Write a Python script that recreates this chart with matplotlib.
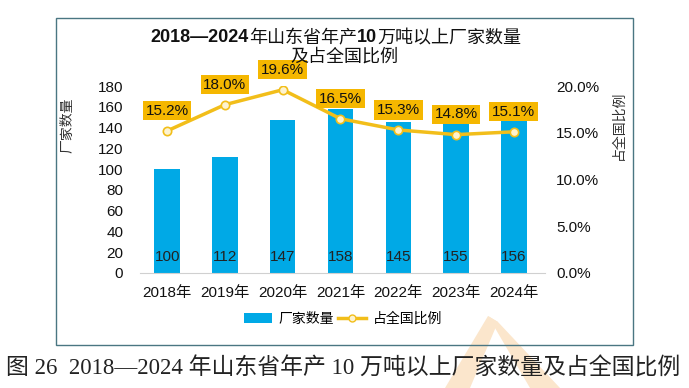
import matplotlib
matplotlib.use("Agg")
import matplotlib.pyplot as plt
from matplotlib.patches import Rectangle, Polygon
from matplotlib.lines import Line2D
from matplotlib.patches import Patch

plt.rcParams['font.family'] = ['Liberation Sans', 'Noto Sans CJK SC', 'DejaVu Sans']

years = ["2018年", "2019年", "2020年", "2021年", "2022年", "2023年", "2024年"]
counts = [100, 112, 147, 158, 145, 155, 156]
shares = [15.2, 18.0, 19.6, 16.5, 15.3, 14.8, 15.1]
left_ticks = [0, 20, 40, 60, 80, 100, 120, 140, 160, 180]
right_ticks = [0, 5, 10, 15, 20]

W, H = 689, 388
fig = plt.figure(figsize=(W / 100, H / 100), dpi=100)

BLUE = '#00A9E6'
GOLD = '#F2BE1A'
BOXC = '#F5B700'


def fx(px):
    return px / W


def fy(py):
    return 1 - py / H


# watermark (pale chevron)
wm_col = '#FBE6CC'
fig.patches.append(Polygon([(fx(488), fy(316)), (fx(498), fy(322)), (fx(470), fy(388)), (fx(445), fy(388))],
                           closed=True, transform=fig.transFigure, facecolor=wm_col, edgecolor='none', zorder=0))
fig.patches.append(Polygon([(fx(488), fy(316)), (fx(498), fy(322)), (fx(560), fy(388)), (fx(530), fy(388))],
                           closed=True, transform=fig.transFigure, facecolor=wm_col, edgecolor='none', zorder=0))

# frame
fig.patches.append(Rectangle((fx(56), fy(345)), 577 / W, 327 / H, transform=fig.transFigure,
                             facecolor='none', edgecolor='#4A7682', linewidth=1.0, zorder=1))

ax = fig.add_axes([fx(140), fy(273), 405 / W, 187 / H])
ax.patch.set_alpha(0)
x = list(range(len(years)))
ax.bar(x, counts, width=0.44, color=BLUE, zorder=2)
ax.set_xlim(-0.47, 6.54)
ax.set_ylim(0, 180)
ax.set_yticks(left_ticks)
ax.set_xticks(x)
ax.set_xticklabels(years)
for s in ['top', 'right', 'left']:
    ax.spines[s].set_visible(False)
ax.spines['bottom'].set_color('#D0D0D0')
ax.tick_params(axis='both', length=0, labelsize=11, colors='#111111')
ax.tick_params(axis='x', pad=9)
ax.tick_params(axis='y', pad=12)
ax.set_ylabel('厂家数量', fontsize=10, family=['Noto Sans CJK SC'], fontweight='light', color='#333333')
ax.yaxis.set_label_coords(-0.163, 0.79)

for xi, v in zip(x, counts):
    ax.text(xi, 15, str(v), ha='center', va='center', fontsize=11, color='#222222', zorder=4)

ax2 = ax.twinx()
ax2.set_ylim(0, 20)
ax2.set_yticks(right_ticks)
ax2.set_yticklabels([f"{t:.1f}%" for t in right_ticks])
for s in ['top', 'right', 'left', 'bottom']:
    ax2.spines[s].set_visible(False)
ax2.tick_params(axis='y', length=0, labelsize=11, colors='#111111', pad=8)
ax2.plot(x, shares, color=GOLD, linewidth=2.5, marker='o', markersize=6,
         markerfacecolor='#FDF3D0', markeredgecolor=GOLD, markeredgewidth=1.2, zorder=3)
ax2.set_ylabel('占全国比例', fontsize=10, family=['Noto Sans CJK SC'], fontweight='light',
               color='#333333', rotation=90)
ax2.yaxis.set_label_coords(1.165, 0.79)

for xi, v in zip(x, shares):
    ax2.annotate(f"{v:.1f}%", (xi, v), xytext=(0, 14.5), textcoords='offset points',
                 ha='center', va='center', fontsize=11, color='#111111', zorder=5,
                 bbox=dict(boxstyle='square,pad=0.18', facecolor=BOXC, edgecolor='none'))

# title line 1 with mixed weights
pieces = [("2018—2024", 'bold', ['Liberation Sans']),
          ("年山东省年产", 'light', ['Noto Sans CJK SC']),
          ("10", 'bold', ['Liberation Sans']),
          ("万吨以上厂家数量", 'light', ['Noto Sans CJK SC'])]
renderer = fig.canvas.get_renderer()
texts = []
widths = []
for s, wgt, fam in pieces:
    t = fig.text(0, fy(38), s, ha='left', va='center', fontsize=13, fontweight=wgt, family=fam, color='#111111')
    bb = t.get_window_extent(renderer=renderer)
    texts.append(t)
    widths.append(bb.width)
total = sum(widths)
cur = 336 - total / 2
for t, w in zip(texts, widths):
    t.set_x(fx(cur))
    cur += w
fig.text(fx(344), fy(57), '及占全国比例', ha='center', va='center', fontsize=13, color='#111111',
         family=['Noto Sans CJK SC'], fontweight='light')

handles = [Patch(facecolor=BLUE, edgecolor='none'),
           Line2D([0], [0], color=GOLD, linewidth=2.5, marker='o', markersize=5,
                  markerfacecolor='#FDF3D0', markeredgecolor=GOLD)]
fig.legend(handles, ['厂家数量', '占全国比例'], loc='center', bbox_to_anchor=(fx(343), fy(319)),
           ncol=2, frameon=False, handlelength=2.0, columnspacing=0.3, handletextpad=0.5,
           prop={'family': ['Noto Sans CJK SC'], 'size': 10, 'weight': 'light'})

fig.text(fx(343), fy(369), '图 26  2018—2024 年山东省年产 10 万吨以上厂家数量及占全国比例',
         ha='center', va='center', fontsize=16.5, color='#222222', fontweight='light',
         family=['Liberation Serif', 'Noto Sans CJK SC'])

fig.savefig('out.png', dpi=100)
